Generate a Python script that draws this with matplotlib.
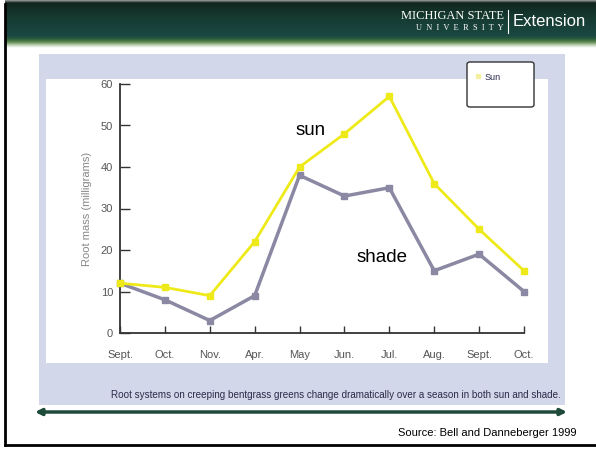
import matplotlib.pyplot as plt
import matplotlib.patches as mpatches
from matplotlib.colors import LinearSegmentedColormap
from matplotlib.lines import Line2D
import numpy as np

# root mass (mg) through the season
months = ['Sept.', 'Oct.', 'Nov.', 'Apr.', 'May', 'Jun.', 'Jul.', 'Aug.', 'Sept.', 'Oct.']
sun = [12, 11, 9, 22, 40, 48, 57, 36, 25, 15]
shade = [12, 8, 3, 9, 38, 33, 35, 15, 19, 10]
yticks = [0, 10, 20, 30, 40, 50, 60]

W, H = 596, 449
fig = plt.figure(figsize=(W / 100, H / 100), dpi=100)
fig.patch.set_facecolor('white')

def fx(px):
    return px / W

def fy(py):
    return 1 - py / H

# header band with gradient
hdr = fig.add_axes([fx(5), fy(48), 1 - fx(5), 48 / H])
cmap = LinearSegmentedColormap.from_list('hdr', [
    (0.0, '#9a9a9a'), (0.05, '#10261e'), (0.35, '#163a30'),
    (0.75, '#1a4842'), (0.82, '#2f5e3a'), (0.88, '#5e8a50'),
    (0.94, '#b8ccb0'), (1.0, '#ffffff')])
grad = np.linspace(0, 1, 100).reshape(-1, 1)
hdr.imshow(grad, aspect='auto', cmap=cmap, extent=[0, 1, 0, 1], origin='upper')
hdr.set_axis_off()
fig.text(fx(504), fy(16), 'MICHIGAN STATE', color='white', fontsize=9,
         family='Liberation Serif', ha='right', va='center')
fig.text(fx(504), fy(28), 'U  N  I  V  E  R  S  I  T  Y', color='white', fontsize=6,
         family='Liberation Serif', ha='right', va='center')
fig.add_artist(Line2D([fx(508), fx(508)], [fy(10), fy(33)], color='white', lw=0.8))
fig.text(fx(513), fy(22), 'Extension', color='white', fontsize=12,
         family='Liberation Sans', ha='left', va='center')

# slide frame
fig.add_artist(Line2D([fx(5), fx(5)], [fy(4), fy(445)], color='black', lw=2))
fig.add_artist(Line2D([fx(5), fx(596)], [fy(445), fy(445)], color='black', lw=2))

# lavender panel and white plot area
fig.add_artist(mpatches.Rectangle((fx(39), fy(405)), fx(565) - fx(39), fy(54) - fy(405),
                                  transform=fig.transFigure, facecolor='#d3d7ea',
                                  edgecolor='none', zorder=0))
fig.add_artist(mpatches.Rectangle((fx(46), fy(363)), fx(548) - fx(46), fy(79) - fy(363),
                                  transform=fig.transFigure, facecolor='white',
                                  edgecolor='none', zorder=0))

ax = fig.add_axes([fx(120), fy(333), fx(524) - fx(120), fy(84) - fy(333)])
ax.patch.set_alpha(0)
x = np.arange(len(months))
ax.plot(x, sun, color='#eeea1a', lw=2, marker='s', ms=5, clip_on=False, zorder=3)
ax.plot(x, shade, color='#8a88a2', lw=2.5, marker='s', ms=5, clip_on=False, zorder=2)

ax.set_xlim(0, 9)
ax.set_ylim(0, 60)
ax.set_xticks(x)
ax.set_xticklabels(months, fontsize=8, color='#555555', family='Liberation Sans')
ax.set_yticks(yticks)
ax.set_yticklabels(yticks, fontsize=8, color='#555555', family='Liberation Sans')
ax.tick_params(axis='x', direction='in', length=5, width=1, color='#333333', pad=12)
ax.tick_params(axis='y', direction='in', length=7, width=1, color='#333333', pad=5)
for s in ['top', 'right']:
    ax.spines[s].set_visible(False)
for s in ['left', 'bottom']:
    ax.spines[s].set_color('#333333')
    ax.spines[s].set_linewidth(1.3)
ax.set_ylabel('Root mass (milligrams)', fontsize=8, color='#888888',
              family='Liberation Sans')
ax.yaxis.set_label_coords(-0.07, 0.5)

ax.text(3.92, 48.9, 'sun', fontsize=13.5, family='Liberation Sans', va='center')
ax.text(5.28, 18.3, 'shade', fontsize=13.5, family='Liberation Sans', va='center')

# legend box (sun only)
fig.add_artist(mpatches.FancyBboxPatch((fx(467), fy(107)), fx(534) - fx(467), fy(62) - fy(107),
                                       boxstyle='round,pad=0,rounding_size=0.005',
                                       transform=fig.transFigure, facecolor='white',
                                       edgecolor='#333333', lw=1, zorder=1))
leg = fig.legend([Line2D([], [], color='#f4f0a0', marker='s', ms=3, lw=0)], ['Sun'],
                 loc='upper left', bbox_to_anchor=(fx(470), fy(68)), frameon=False,
                 handlelength=0.8, handletextpad=0.3, borderpad=0,
                 prop={'family': 'Liberation Sans', 'size': 6.5})
for t in leg.get_texts():
    t.set_color('#2a2a50')

# caption and source
fig.text(fx(561), fy(395), 'Root systems on creeping bentgrass greens change dramatically '
         'over a season in both sun and shade.', fontsize=7.1, color='#2a2a48',
         family='Liberation Sans', ha='right', va='center')
fig.add_artist(mpatches.FancyArrowPatch((fx(35), fy(412)), (fx(567), fy(412)),
                                        transform=fig.transFigure, arrowstyle='<|-|>',
                                        mutation_scale=9, color='#1e4a3a', lw=2.5,
                                        shrinkA=0, shrinkB=0))
fig.text(fx(577), fy(433), 'Source: Bell and Danneberger 1999', fontsize=8,
         family='Liberation Sans', ha='right', va='center')

fig.savefig('out.png', dpi=100)
